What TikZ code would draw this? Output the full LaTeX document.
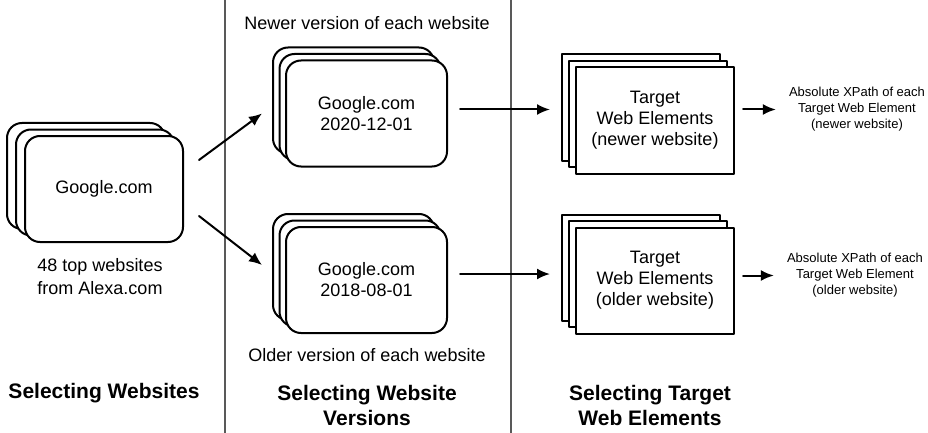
\documentclass[tikz,border=0pt]{standalone}
\usepackage{fontspec}
\setmainfont{Liberation Sans}
\usetikzlibrary{arrows.meta}
\usetikzlibrary{shadows}

\begin{document}
\begin{tikzpicture}
    [line cap=round,line join=round,x=1pt,y=-1pt,
     every shadow/.style={draw=black,fill=white,line width=2pt},
     card/.style={draw=black,fill=white,line width=2pt,minimum width=158pt,minimum height=106pt,
                  align=center,inner sep=2pt,font=\fontsize{18}{21}\selectfont},
     site/.style={card,rounded corners=15pt,double copy shadow={shadow xshift=-#1,shadow yshift=6.5pt}},
     site/.default=7pt,
     elems/.style={card,double copy shadow={shadow xshift=-7pt,shadow yshift=6.5pt}},
     flow/.style={-{Latex[length=13pt,width=11pt]},line width=2pt},
     divider/.style={draw=black!65,line width=1.5pt},
     caption/.style={align=center,inner sep=0pt,font=\fontsize{18}{23}\selectfont},
     note/.style={align=center,inner sep=0pt,font=\fontsize{13}{16}\selectfont},
     stage/.style={align=center,inner sep=0pt,font=\fontsize{21}{25}\selectfont\bfseries}]
\useasboundingbox (0,0) rectangle (928,433);

%column dividers
 \draw[divider] (225,0) -- (225,433);
 \draw[divider] (511,0) -- (511,433);

%stacks of pages
 \node[site=9pt] (web) at (104,189) {Google.com};
 \node[site=6.5pt,minimum width=161pt] (newer) at (366.5,113.5) {Google.com\\2020-12-01};
 \node[site=6.5pt,minimum width=161pt] (older) at (366.5,280) {Google.com\\2018-08-01};
 \node[elems] (tnew) at (655,120.5) {Target\\Web Elements\\(newer website)};
 \node[elems] (told) at (655,280.5) {Target\\Web Elements\\(older website)};

%labels
 \node[caption] (alexa) at (100,276.5) {48 top websites\\from Alexa.com};
 \node[caption] (newlbl) at (367,23) {Newer version of each website};
 \node[caption] (oldlbl) at (367,355) {Older version of each website};
 \node[note] (xnew) at (857,109.5) {Absolute XPath of each\\Target Web Element\\(newer website)};
 \node[note] (xold) at (855,275.5) {Absolute XPath of each\\Target Web Element\\(older website)};

 \node[stage] (st1) at (104,393) {Selecting Websites};
 \node[stage] (st2) at (367,405.5) {Selecting Website\\Versions};
 \node[stage] (st3) at (650,405.5) {Selecting Target\\Web Elements};

%arrows
 \draw[flow] ([xshift=15pt,yshift=29pt]web.east) -- ([xshift=-23pt]newer.west);
 \draw[flow] ([xshift=15pt,yshift=-27pt]web.east) -- ([xshift=-23pt,yshift=15pt]older.west);
 \draw[flow] ([xshift=12pt,yshift=4pt]newer.east) -- ([xshift=-25pt,yshift=11pt]tnew.west);
 \draw[flow] ([xshift=12pt,yshift=6pt]older.east) -- ([xshift=-25pt,yshift=6.5pt]told.west);
 \draw[flow] ([xshift=8pt,yshift=11pt]tnew.east) -- ([xshift=-13pt]xnew.west);
 \draw[flow] ([xshift=8pt,yshift=5pt]told.east) -- ([xshift=-13pt]xold.west);

\end{tikzpicture}
\end{document}
